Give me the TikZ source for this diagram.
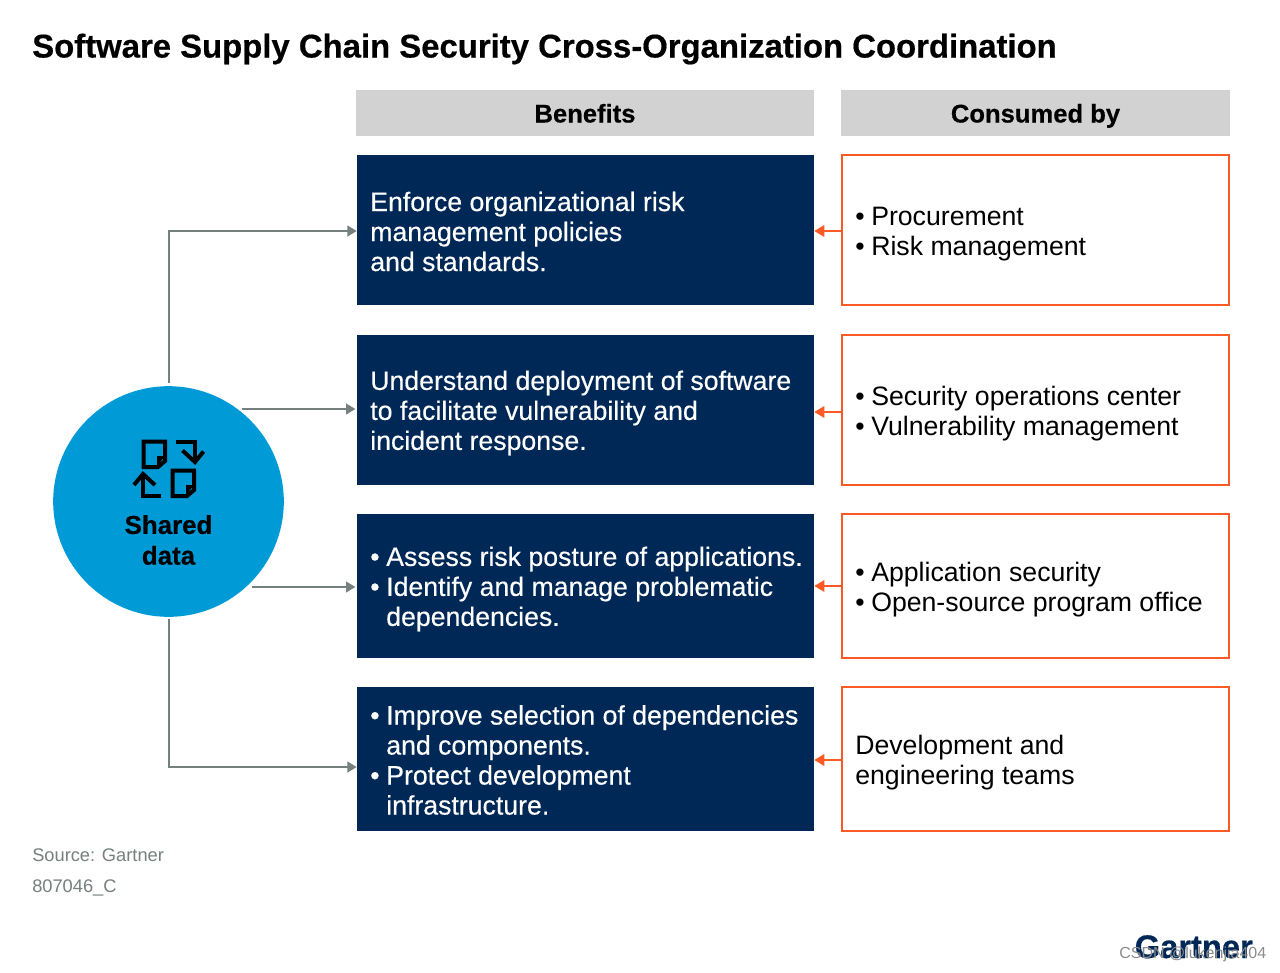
\documentclass[tikz,border=0pt]{standalone}
\usepackage{fontspec}
\setmainfont{Liberation Sans}
\usetikzlibrary{arrows.meta}
\definecolor{navy}{HTML}{002856}
\definecolor{orangeline}{HTML}{F95A26}
\definecolor{headgray}{HTML}{D2D2D2}
\definecolor{linegray}{HTML}{76807F}
\definecolor{sharedblue}{HTML}{009AD7}
\newcommand{\bul}{\makebox[12pt][l]{•}}
\newcommand{\ind}{\hspace*{12pt}}
\tikzset{
  x=0.75pt,y=-0.75pt,
  header/.style={fill=headgray,inner sep=0pt,font=\fontsize{19.2}{22.5}\selectfont\bfseries\addfontfeatures{FakeBold=0.4},text=black},
  navybox/.style={fill=navy,inner sep=0pt},
  benefit/.style={inner sep=0pt,text=white,align=left,
    font=\fontsize{20}{22.5}\selectfont\addfontfeatures{FakeBold=0.4}},
  consumer/.style={draw=orangeline,line width=1.3pt,fill=white,inner sep=0pt},
  consumertext/.style={inner sep=0pt,align=left,font=\fontsize{20}{22.5}\selectfont,text=black},
  feedin/.style={draw=linegray,line width=1.5pt,-{Triangle[length=7pt,width=8pt]}},
  feedback/.style={draw=orangeline,line width=1.5pt,-{Triangle[length=7.5pt,width=8.5pt]}},
  iconline/.style={draw=black,line width=3pt,miter limit=4},
  note/.style={font=\fontsize{13.7}{16}\selectfont,text=linegray,anchor=base west,inner sep=0pt},
}
\begin{document}
\begin{tikzpicture}
\useasboundingbox (0,0) rectangle (1280,972);
\fill[white] (0,0) rectangle (1280,972);

\node[anchor=base west,inner sep=0pt,font=\fontsize{24.65}{28}\selectfont\bfseries\addfontfeatures{FakeBold=0.5}] (title) at (32,57.5) {Software Supply Chain Security Cross-Organization Coordination};

\node[header,minimum width=343.75pt,minimum height=34.5pt] (hb) at (585,113) {};
\node[header,minimum width=292pt,minimum height=34.5pt] (hc) at (1035.5,113) {};
\node[header,fill=none,anchor=base] (hbt) at (585,122.5) {Benefits};
\node[header,fill=none,anchor=base] (hct) at (1035.5,122.5) {Consumed by};

% benefit boxes
\node[navybox,minimum width=342.75pt,minimum height=112.5pt] (b1) at (585.5,230) {};
\node[navybox,minimum width=342.75pt,minimum height=112.5pt] (b2) at (585.5,410) {};
\node[navybox,minimum width=342.75pt,minimum height=108pt] (b3) at (585.5,586) {};
\node[navybox,minimum width=342.75pt,minimum height=108pt] (b4) at (585.5,759) {};

\node[benefit,anchor=west] (t1) at (370,231.5) {Enforce organizational risk\\management policies\\and standards.};
\node[benefit,anchor=west] (t2) at (370,413) {Understand deployment of software\\to facilitate vulnerability and\\incident response.};
\node[benefit,anchor=west] (t3) at (370,589) {\bul Assess risk posture of applications.\\\bul Identify and manage problematic\\\ind dependencies.};
\node[benefit,anchor=west] (t4) at (370,760) {\bul Improve selection of dependencies\\\ind and components.\\\bul Protect development\\\ind infrastructure.};

% consumer boxes
\node[consumer,minimum width=290.5pt,minimum height=112pt] (c1) at (1035.5,230) {};
\node[consumer,minimum width=290.5pt,minimum height=112pt] (c2) at (1035.5,410) {};
\node[consumer,minimum width=290.5pt,minimum height=107.5pt] (c3) at (1035.5,586) {};
\node[consumer,minimum width=290.5pt,minimum height=107.5pt] (c4) at (1035.5,759) {};

\node[consumertext,anchor=west] (u1) at (855,234) {\bul Procurement\\\bul Risk management};
\node[consumertext,anchor=west] (u2) at (855,414) {\bul Security operations center\\\bul Vulnerability management};
\node[consumertext,anchor=west] (u3) at (855,590) {\bul Application security\\\bul Open-source program office};
\node[consumertext,anchor=west] (u4) at (855,763) {Development and\\engineering teams};

% shared data
\node[circle,fill=sharedblue,minimum size=173pt,inner sep=0pt] (shared) at (168.5,501.5) {};
\node[align=center,inner sep=0pt,font=\fontsize{19.4}{23}\selectfont\bfseries\addfontfeatures{FakeBold=0.4},text=black] (sharedlabel) at (168.5,540) {Shared\\data};

% icon
\draw[iconline] (143.5,441.7) -- (165,441.7) -- (165,461) -- (158,467) -- (143.5,467) -- cycle;
\fill (165,456) -- (157,456) -- (157,466) -- cycle;
\draw[iconline] (172.7,470.5) -- (194,470.5) -- (194,490) -- (187,496) -- (172.7,496) -- cycle;
\fill (194,485) -- (186,485) -- (186,495) -- cycle;
\draw[iconline] (176,441.7) -- (195,441.7) -- (195,461);
\draw[iconline] (182.5,450.5) -- (195,462) -- (203.5,451.5);
\draw[iconline] (160.7,495.5) -- (143,495.5) -- (143,475);
\draw[iconline] (134,485) -- (143,474) -- (155,485);

% connectors
\coordinate (s1) at (168.5,383);
\coordinate (s2) at (242,409);
\coordinate (s3) at (252,587);
\coordinate (s4) at (168.5,619);
\draw[feedin] (s1) |- ([yshift=-0.75pt]b1.west);
\draw[feedin] (s2) -- ([xshift=-1pt]s2 -| b2.west);
\draw[feedin] (s3) -- ([xshift=-1pt]s3 -| b3.west);
\draw[feedin] (s4) |- ([yshift=-6pt]b4.west);

\draw[feedback] ([yshift=-0.75pt]c1.west) -- ([yshift=-0.75pt]b1.east);
\draw[feedback] ([yshift=-1.5pt]c2.west) -- ([yshift=-1.5pt]b2.east);
\draw[feedback] (c3.west) -- (b3.east);
\draw[feedback] ([yshift=-0.75pt]c4.west) -- ([yshift=-0.75pt]b4.east);

\node[note] (source) at (32,861) {Source: Gartner};
\node[note] (code) at (32,892) {807046\_C};

\node[anchor=base west,inner sep=0pt,font=\fontsize{24.5}{28}\selectfont\bfseries\addfontfeatures{FakeBold=0.4},text=navy] (logo) at (1134.5,958) {Gartner};
\node[anchor=base west,inner sep=0pt,font=\fontsize{12}{14}\selectfont,text=black!45] (mark) at (1119,958.5) {CSDN @lukenjia404};
\end{tikzpicture}
\end{document}
